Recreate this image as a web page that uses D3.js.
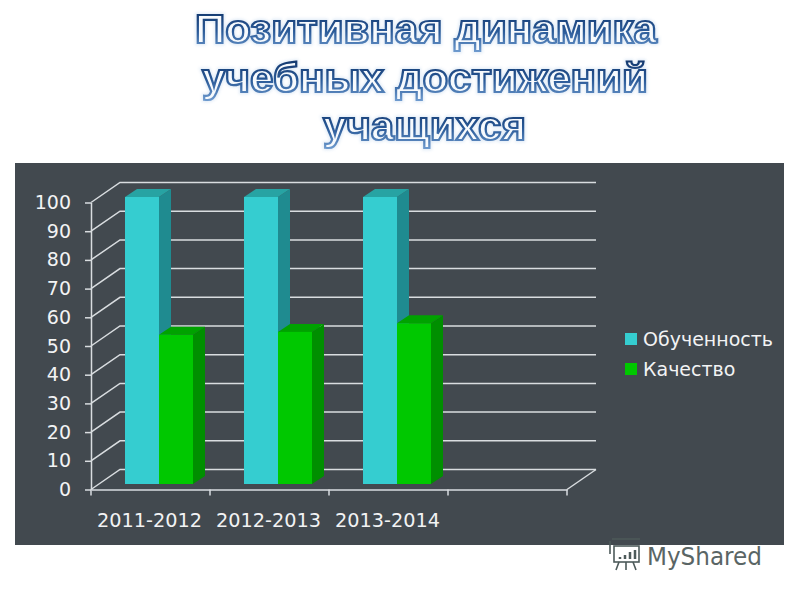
<!DOCTYPE html>
<html><head><meta charset="utf-8">
<script src="https://cdn.jsdelivr.net/npm/d3@7"></script>
<style>html,body{margin:0;padding:0;background:#fff}svg{display:block}</style>
</head><body><svg id="c" width="800" height="600"></svg>
<script>
const titleLines = ["Позитивная динамика", "учебных достижений", "учащихся"];
const categories = ["2011-2012", "2012-2013", "2013-2014", ""];
const seriesNames = ["Обученность", "Качество"];
const obuchennost = [100, 100, 100];
const kachestvo = [52, 53, 56];
const yTicks = [0,10,20,30,40,50,60,70,80,90,100];
const seriesColors = [
  {front:"#35cdd0", side:"#1f8b90", top:"#27a3a3"},
  {front:"#00c800", side:"#008f00", top:"#00a200"}
];
const svg = d3.select("#c");
const defs = svg.append("defs");
const grad = defs.append("linearGradient").attr("id","tg").attr("x1",0).attr("x2",0).attr("y1",0).attr("y2",1);
grad.append("stop").attr("offset","0").attr("stop-color","#0f2f63");
grad.append("stop").attr("offset","0.55").attr("stop-color","#2a5a98");
grad.append("stop").attr("offset","1").attr("stop-color","#6f9bcf");
const gl = defs.append("filter").attr("id","glow").attr("x","-10%").attr("y","-30%").attr("width","120%").attr("height","160%");
gl.append("feGaussianBlur").attr("stdDeviation",1.5);
const soft = defs.append("filter").attr("id","soft");
soft.append("feGaussianBlur").attr("stdDeviation",0.4);

// title
const tb = [43, 92, 140], tx=[[195,462],[202,446],[323,203]];
titleLines.forEach((t,i)=>{
  const mk = ()=>svg.append("text").text(t).attr("x",tx[i][0]).attr("y",tb[i])
    .attr("textLength",tx[i][1]).attr("lengthAdjust","spacingAndGlyphs")
    .attr("font-family","Liberation Sans").attr("font-weight","bold").attr("font-size",41);
  mk().attr("fill","none").attr("stroke","#a9c6e6").attr("stroke-width",4.5).attr("opacity",.35).attr("filter","url(#glow)");
  mk().attr("fill","#f7fafd").attr("stroke","url(#tg)").attr("stroke-width",2.2).attr("filter","url(#soft)");
});

// panel
svg.append("rect").attr("x",15).attr("y",163).attr("width",769).attr("height",382).attr("fill","#42494f");

const depth = {x:29, y:-20};
const x = d3.scaleBand().domain(categories).range([91,567]);
const y = d3.scaleLinear().domain([0,100]).range([489.5,202.5]);
const barBand = d3.scaleBand().domain(seriesNames).range([0,x.bandwidth()]).paddingOuter(0.75).paddingInner(0);
const barDepth = {x:12, y:-8}, barOff = {x:8.5, y:-5.5};
const lineC = "#d9dde0";
const wall = svg.append("g").attr("fill","none").attr("stroke",lineC).attr("stroke-width",1.5);

// back wall grid + left wall diagonals
wall.selectAll(".gl").data(yTicks).join("path")
  .attr("d",d=>`M${x.range()[0]},${y(d)}L${x.range()[0]+depth.x},${y(d)+depth.y}H${x.range()[1]+depth.x}`);
// floor right edge
wall.append("path").attr("d",`M${x.range()[1]},${y(0)}L${x.range()[1]+depth.x},${y(0)+depth.y}`);

// axes
const yAxis = d3.axisLeft(y).tickValues(yTicks).tickSize(6).tickSizeOuter(0);
const gy = svg.append("g").attr("transform",`translate(${x.range()[0]},0)`).call(yAxis);
const xAxis = d3.axisBottom(x).tickSize(6).tickSizeOuter(0);
const gx = svg.append("g").attr("transform",`translate(0,${y(0)})`).call(xAxis);
gx.selectAll(".tick").remove();
const bounds = categories.map(c=>x(c)).concat([x.range()[1]]);
gx.selectAll(".bt").data(bounds).join("line").attr("x1",d=>d).attr("x2",d=>d).attr("y1",0).attr("y2",6).attr("stroke",lineC).attr("stroke-width",1.5);
gx.selectAll(".lb").data(categories.filter(c=>c)).join("text")
  .attr("x",d=>x(d)+x.bandwidth()/2-1).attr("y",37.5).attr("text-anchor","middle").attr("fill","#f2f3f4")
  .attr("font-family","DejaVu Sans").attr("font-size",19).text(d=>d)
  .attr("textLength",105).attr("lengthAdjust","spacingAndGlyphs");
[gy,gx].forEach(g=>{g.selectAll("path,line").attr("stroke",lineC).attr("stroke-width",1.5);});
gy.selectAll("text").attr("fill","#f2f3f4").attr("font-family","DejaVu Sans").attr("font-size",19).attr("x",-20);

// bars
const rows = [obuchennost,kachestvo];
seriesNames.forEach((s,si)=>{
  const col = seriesColors[si];
  const g = svg.selectAll(null).data(rows[si].map((v,i)=>({v,c:categories[i]}))).join("g");
  const X = d=>x(d.c)+barBand(s)+barOff.x, Y=d=>y(d.v)+barOff.y, W=barBand.bandwidth(), B=y(0)+barOff.y;
  g.append("path").attr("fill",col.side).attr("d",d=>`M${X(d)+W},${Y(d)}l${barDepth.x},${barDepth.y}V${B+barDepth.y}l${-barDepth.x},${-barDepth.y}Z`);
  g.append("path").attr("fill",col.top).attr("d",d=>`M${X(d)},${Y(d)}l${barDepth.x},${barDepth.y}h${W}l${-barDepth.x},${-barDepth.y}Z`);
  g.append("rect").attr("fill",col.front).attr("x",X).attr("y",Y).attr("width",W).attr("height",d=>B-Y(d));
});

// legend
const lg = svg.selectAll(null).data(seriesNames).join("g").attr("transform",(d,i)=>`translate(625,${333+i*30})`);
lg.append("rect").attr("width",12).attr("height",12).attr("fill",(d,i)=>seriesColors[i].front);
lg.append("text").attr("x",18).attr("y",13).attr("fill","#f2f3f4").attr("font-family","DejaVu Sans").attr("font-size",19).text(d=>d);

// watermark
const wm = svg.append("g").attr("fill","none").attr("stroke","#4d5a5a").attr("stroke-width",1.6);
wm.append("rect").attr("x",614).attr("y",546).attr("width",25).attr("height",16).attr("fill","#fff");
wm.append("path").attr("d","M612,539H640M610,541v13M619,562l-3,8M626,562v8M633,562l3,8");
wm.append("path").attr("stroke-width",2.5).attr("d","M620,559v-2M625,559v-4M630,559v-7M635,559v-9");
svg.append("text").attr("x",647).attr("y",565).attr("fill","#5a6565").attr("font-family","DejaVu Sans").attr("font-size",24.5).attr("textLength",115).attr("lengthAdjust","spacingAndGlyphs").text("MyShared");
</script></body></html>
